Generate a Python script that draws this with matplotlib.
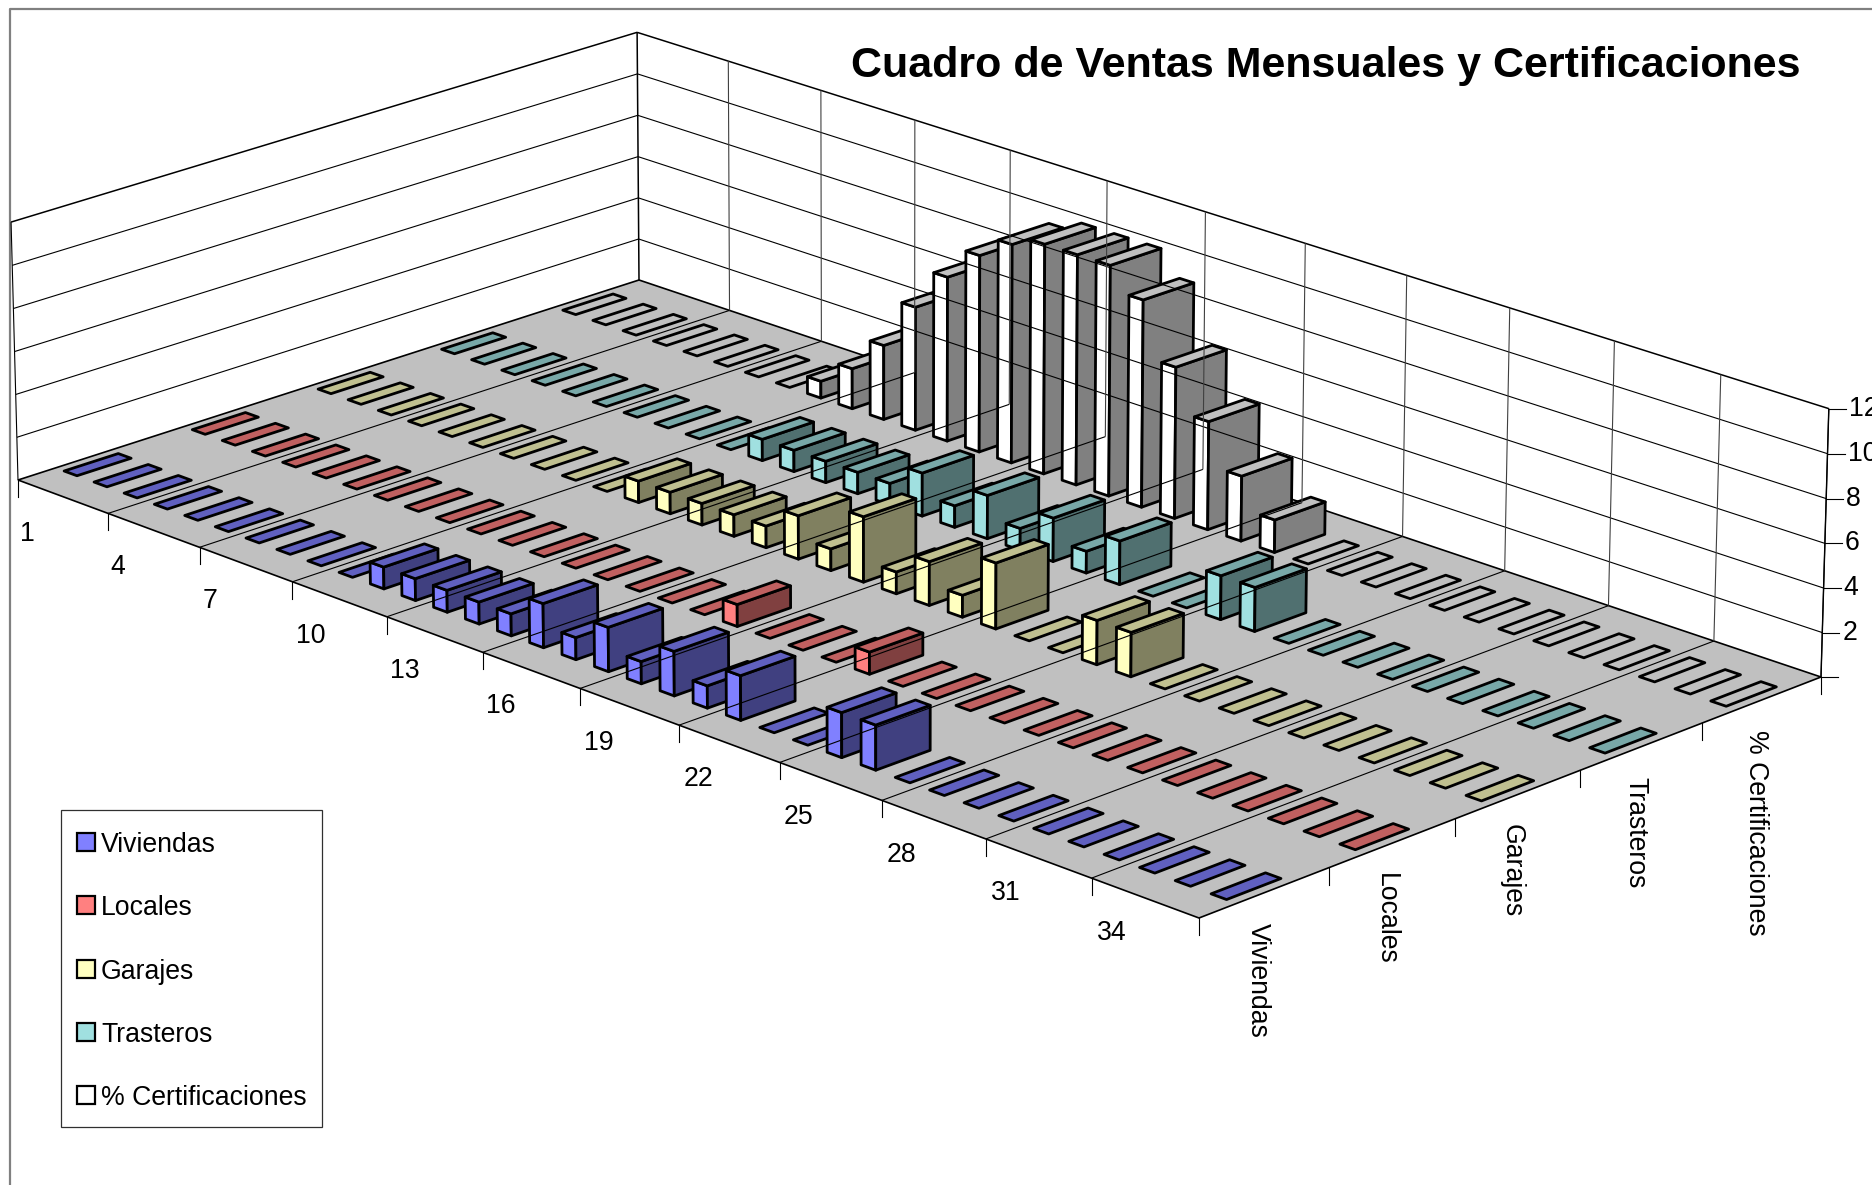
import numpy as np
import matplotlib
matplotlib.use("Agg")
import matplotlib.pyplot as plt
from matplotlib.patches import Polygon, Rectangle

plt.rcParams['font.family'] = ['Liberation Sans', 'DejaVu Sans']

series_names = ['Viviendas', 'Locales', 'Garajes', 'Trasteros', '% Certificaciones']
cat_labels = [1, 4, 7, 10, 13, 16, 19, 22, 25, 28, 31, 34]
z_labels = [2, 4, 6, 8, 10, 12]

viviendas = [0,0,0,0,0,0,0,0,0,0,1,1,1,1,1,2,1,2,1,2,1,2,0,0,2,2,0,0,0,0,0,0,0,0,0,0]
locales = [0,0,0,0,0,0,0,0,0,0,0,0,0,0,0,0,0,1,0,0,0,1,0,0,0,0,0,0,0,0,0,0,0,0,0,0]
garajes = [0,0,0,0,0,0,0,0,0,0,1,1,1,1,1,2,1,3,1,2,1,3,0,0,2,2,0,0,0,0,0,0,0,0,0,0]
trasteros = [0,0,0,0,0,0,0,0,0,0,1,1,1,1,1,2,1,2,1,2,1,2,0,0,2,2,0,0,0,0,0,0,0,0,0,0]
certificaciones = [0,0,0,0,0,0,0,0,0.8,1.9,3.5,5.8,7.7,9.2,10.2,10.7,10.7,10.7,9.6,7.0,5.0,3.0,1.5,
                   0,0,0,0,0,0,0,0,0,0,0,0,0]
all_series = [viviendas, locales, garajes, trasteros, certificaciones]

# light face, top, dark side
shades = [('#8080FF', '#6060C0', '#404080'),
          ('#FF8080', '#C06060', '#804040'),
          ('#FFFFC0', '#C0C090', '#808060'),
          ('#A0E0E0', '#78A8A8', '#507070'),
          ('#FFFFFF', '#C0C0C0', '#808080')]

ncat = 36
nser = 5
zmax = 12
bar_c = 0.43   # bar size along the category axis, fraction of a slot
bar_s = 0.42   # bar size along the series axis


def make_projection():
    # perspective of the box: floor corners and the tops of three wall edges, in pixels
    floor = [(0, 0, 18, 480), (0, 1, 639, 280), (1, 1, 1821, 677), (1, 0, 1199, 918)]
    tops = [(0, 0, 11, 222), (0, 1, 637, 33), (1, 1, 1829, 408)]
    A, b = [], []
    for u, v, x, y in floor:
        A.append([u, v, 1, 0, 0, 0, -u*x, -v*x]); b.append(x)
        A.append([0, 0, 0, u, v, 1, -u*y, -v*y]); b.append(y)
    h = np.linalg.solve(np.array(A, float), np.array(b, float))
    A, b = [], []
    for u, v, x, y in tops:
        d = h[6]*u + h[7]*v + 1
        A.append([1, 0, -x]); b.append(x*d - (h[0]*u + h[1]*v + h[2]))
        A.append([0, 1, -y]); b.append(y*d - (h[3]*u + h[4]*v + h[5]))
    z = np.linalg.lstsq(np.array(A, float), np.array(b, float), rcond=None)[0]
    return h, z


h, zc = make_projection()


def pr(c, s, z=0):
    u, v, w = c/ncat, s/nser, z/zmax
    d = h[6]*u + h[7]*v + 1 + zc[2]*w
    return ((h[0]*u + h[1]*v + h[2] + zc[0]*w)/d, (h[3]*u + h[4]*v + h[5] + zc[1]*w)/d)


fig = plt.figure(figsize=(18.72, 11.85), dpi=100)
ax = fig.add_axes([0, 0, 1, 1])
ax.set_xlim(0, 1872)
ax.set_ylim(1185, 0)
ax.axis('off')

# chart frame
ax.plot([10, 10, 1872], [1185, 9, 9], color='#808080', lw=1.6)

# floor
ax.add_patch(Polygon([pr(0, 0), pr(0, nser), pr(ncat, nser), pr(ncat, 0)], closed=True,
                     fc='#C0C0C0', ec='black', lw=1.2))


def line(p, q, lw=0.8, color='black'):
    ax.plot([p[0], q[0]], [p[1], q[1]], color=color, lw=lw, solid_capstyle='butt')


# wall gridlines
for z in range(2, zmax + 1, 2):
    lw = 1.1 if z == zmax else 0.8
    line(pr(0, 0, z), pr(0, nser, z), lw)
    line(pr(0, nser, z), pr(ncat, nser, z), lw)
line(pr(0, 0), pr(0, 0, zmax))
line(pr(0, nser), pr(0, nser, zmax), 1.1)

# category gridlines across the floor and up the back wall
for c in range(3, ncat, 3):
    line(pr(c, 0), pr(c, nser))
    line(pr(c, nser), pr(c, nser, zmax), color='#404040')
line(pr(ncat, nser), pr(ncat, nser, zmax))

# bars, from the back row forwards
for s in range(nser - 1, -1, -1):
    light, top, dark = shades[s]
    for k, val in enumerate(all_series[s]):
        c0 = k + (1 - bar_c)/2
        c1 = c0 + bar_c
        s0 = s + (1 - bar_s)/2
        s1 = s0 + bar_s
        faces = []
        if val > 0:
            faces.append(([pr(c0, s0), pr(c1, s0), pr(c1, s0, val), pr(c0, s0, val)], light))
            faces.append(([pr(c1, s0), pr(c1, s1), pr(c1, s1, val), pr(c1, s0, val)], dark))
        faces.append(([pr(c0, s0, val), pr(c1, s0, val), pr(c1, s1, val), pr(c0, s1, val)], top))
        for pts, col in faces:
            ax.add_patch(Polygon(pts, closed=True, fc=col, ec='black', lw=2.0, joinstyle='round'))

# tick marks and labels
tick = 17
for i, lab in enumerate(cat_labels):
    x, y = pr(i*3, 0)
    ax.plot([x, x], [y, y + tick], color='black', lw=0.8)
    x, y = pr(i*3 + 0.5, 0)
    ax.text(x - 12.5, y + 48, str(lab), fontsize=19.2, ha='left', va='center')
x, y = pr(ncat, 0)
ax.plot([x, x], [y, y + tick], color='black', lw=0.8)

for s in range(nser):
    x, y = pr(ncat, s)
    if s > 0:
        ax.plot([x, x], [y, y + tick], color='black', lw=0.8)
    x, y = pr(ncat, s + 0.5)
    ax.text(x - 6, y + 30, series_names[s], fontsize=19.2, rotation=270, ha='center', va='top')
x, y = pr(ncat, nser)
ax.plot([x, x], [y, y + tick], color='black', lw=0.8)

line(pr(ncat, nser), pr(ncat, nser, zmax), 1.0)
for z in [0] + z_labels:
    x, y = pr(ncat, nser, z)
    ax.plot([x, x + tick], [y, y], color='black', lw=0.8)
    if z > 0:
        ax.text(x + tick + 3, y, str(z), fontsize=19.2, ha='left', va='center')

ax.text(1326, 66, 'Cuadro de Ventas Mensuales y Certificaciones', fontsize=31,
        fontweight='bold', ha='center', va='center')

# legend
ax.add_patch(Rectangle((61, 810), 261, 317, fc='white', ec='#303030', lw=0.9))
for i, name in enumerate(series_names):
    yc = 842 + i*63.3
    ax.add_patch(Rectangle((77, yc - 9), 18, 18, fc=shades[i][0], ec='black', lw=1.6))
    ax.text(101, yc, name, fontsize=19.2, ha='left', va='center_baseline')

fig.savefig('out.png', dpi=100)
